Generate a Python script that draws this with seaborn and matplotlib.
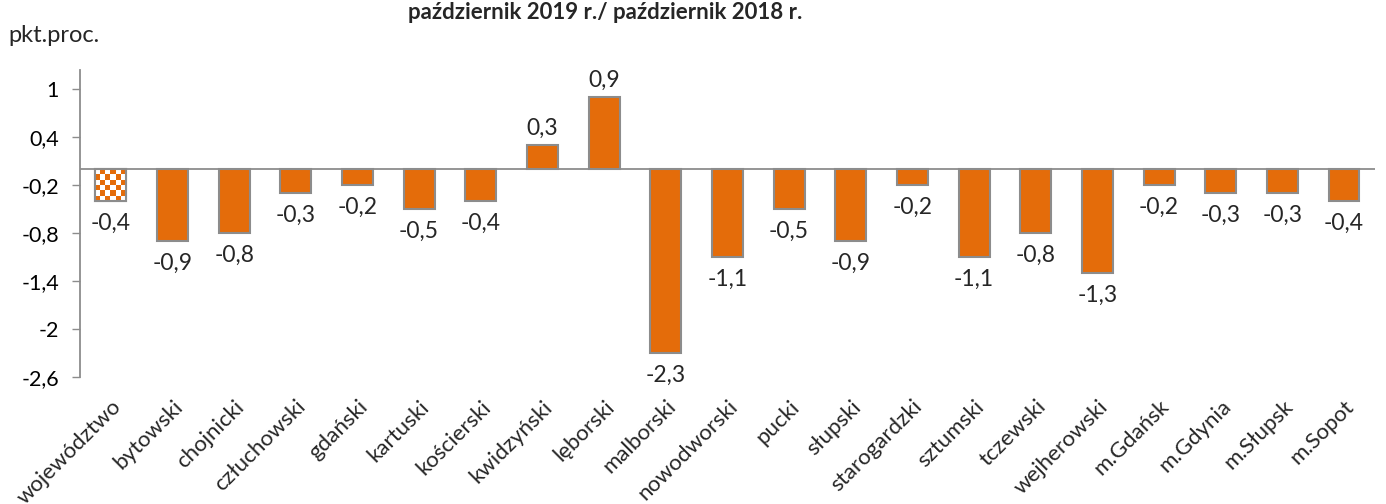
import numpy as np
import pandas as pd
import matplotlib
matplotlib.use("Agg")
import matplotlib.pyplot as plt
import seaborn as sns

categories = ["województwo", "bytowski", "chojnicki", "człuchowski", "gdański", "kartuski",
              "kościerski", "kwidzyński", "lęborski", "malborski", "nowodworski", "pucki",
              "słupski", "starogardzki", "sztumski", "tczewski", "wejherowski", "m.Gdańsk",
              "m.Gdynia", "m.Słupsk", "m.Sopot"]
values = [-0.4, -0.9, -0.8, -0.3, -0.2, -0.5, -0.4, 0.3, 0.9, -2.3, -1.1, -0.5,
          -0.9, -0.2, -1.1, -0.8, -1.3, -0.2, -0.3, -0.3, -0.4]
yticks = [1, 0.4, -0.2, -0.8, -1.4, -2, -2.6]
title = "październik 2019 r./ październik 2018 r."
unit = "pkt.proc."

sns.set_theme(style="white")
plt.rcParams['font.family'] = ['Lato', 'DejaVu Sans']

ORANGE = "#E46C0A"
GRAY = "#8C8C8C"

df = pd.DataFrame({"cat": categories, "val": values})
fig = plt.figure(figsize=(13.86, 5.04), dpi=100)
ax = fig.add_axes([0.0577, 0.252, 0.9343, 0.609])
sns.barplot(data=df, x="cat", y="val", color=ORANGE, saturation=1, width=0.5,
            edgecolor=GRAY, linewidth=1.5, ax=ax, zorder=3)

# checkered fill for first bar
p = ax.patches[0]
x0, y0 = p.get_x(), p.get_y()
w, h = p.get_width(), p.get_height()
n = 6
checker = np.indices((n, n)).sum(axis=0) % 2
cmap = matplotlib.colors.ListedColormap(["white", ORANGE])
im = ax.imshow(checker, cmap=cmap, extent=(x0, x0 + w, y0 + h, y0), aspect="auto",
               interpolation="nearest", zorder=3.5)
im.set_clip_path(p)
p2 = plt.Rectangle((x0, y0), w, h, fill=False, edgecolor=GRAY, linewidth=1.5, zorder=4)
ax.add_patch(p2)

ax.set_xlim(-0.5, len(categories) - 0.5)
ax.set_ylim(-2.6, 1.24)
ax.axhline(0, color=GRAY, linewidth=1.3, zorder=2)

def fmt(v):
    return f"{v:g}".replace(".", ",")

ax.set_yticks(yticks)
ax.set_yticklabels([fmt(v) for v in yticks], fontsize=15.5, color="#000000")
ax.tick_params(axis="y", length=6, width=1, color=GRAY, direction="out", pad=9, left=True)
ax.tick_params(axis="x", length=0, pad=14)
ax.set_xticks(range(len(categories)))
ax.set_xticklabels(categories, rotation=45, ha="right", rotation_mode="anchor", fontsize=16)

for s in ["top", "right", "bottom"]:
    ax.spines[s].set_visible(False)
ax.spines["left"].set_color(GRAY)
ax.spines["left"].set_linewidth(1.3)
ax.set_xlabel("")
ax.set_ylabel("")

for i, v in enumerate(values):
    if v >= 0:
        ax.text(i, v + 0.08, fmt(v), ha="center", va="bottom", fontsize=16.5)
    else:
        ax.text(i, v - 0.15, fmt(v), ha="center", va="top", fontsize=16.5)

fig.text(0.4365, 0.975, title, ha="center", va="center", fontsize=16, fontweight="bold")
fig.text(0.006, 0.93, unit, ha="left", va="center", fontsize=17)

fig.savefig("out.png", dpi=100)
